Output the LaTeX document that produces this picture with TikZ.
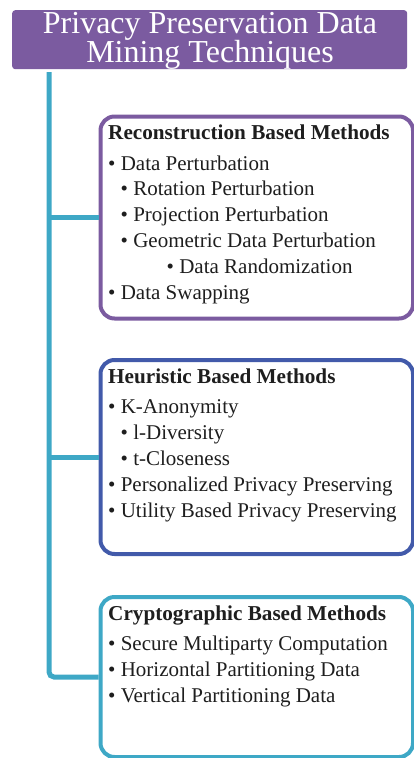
\documentclass[tikz,border=0pt]{standalone}
\usepackage{fontspec}
\setmainfont{Liberation Serif}
\usetikzlibrary{positioning,calc}
\definecolor{mPurple}{RGB}{123,91,160}
\definecolor{mBlue}{RGB}{66,90,170}
\definecolor{mTeal}{RGB}{62,168,198}
\definecolor{mText}{RGB}{30,30,30}

\begin{document}
\begin{tikzpicture}[x=1pt, y=1pt,
    font=\fontsize{21}{24}\selectfont,
    grp/.style={draw=#1, line width=4pt, rounded corners=14pt, anchor=north west,
                inner sep=0pt, minimum width=312.5pt},
    head/.style={anchor=base west, inner sep=0pt, mText,
                 font=\fontsize{21.2}{24}\selectfont\bfseries},
    item/.style={anchor=base west, inner sep=0pt, mText},
    ttl/.style={anchor=base, inner sep=0pt, white, font=\fontsize{32}{32}\selectfont},
    trunk/.style={mTeal, line width=5pt, rounded corners=5pt}
]
  \useasboundingbox (0,0) rectangle (414,-758);

  % title
  \node[fill=mPurple, rounded corners=3pt, anchor=north west, inner sep=0pt,
        minimum width=395pt, minimum height=59pt] (title) at (12,-10) {};
  \node[ttl] (title1) at (210,-33) {Privacy Preservation Data};
  \node[ttl] (title2) at (210,-62) {Mining Techniques};

  % the three groups
  \node[grp=mPurple, minimum height=202pt] (recon) at (98.5,-114.5) {};
  \node[grp=mBlue, minimum height=194pt] (heur) at (98.5,-358) {};
  \node[grp=mTeal, minimum height=160pt] (crypt) at (98.5,-595) {};

  % connectors
  \coordinate (trunktop) at (49,-72);
  \draw[trunk] (trunktop) |- (crypt.west);
  \draw[trunk] (trunktop |- recon.west) -- (recon.west);
  \draw[trunk] (trunktop |- heur.west) -- (heur.west);

  % Reconstruction
  \node[head] (reconhead) at (108,-139) {Reconstruction Based Methods};
  \foreach \t/\dx [count=\i] in {Data Perturbation/0, Rotation Perturbation/12.5,
      Projection Perturbation/12.5, Geometric Data Perturbation/12.5,
      Data Randomization/58.5, Data Swapping/0} {
    \node[item] (r\i) at (108+\dx, -170-25.8*\i+25.8) {• \t};
  }

  % Heuristic
  \node[head] (heurhead) at (108,-383) {Heuristic Based Methods};
  \foreach \t/\dx [count=\i] in {K-Anonymity/0, l-Diversity/12.5, t-Closeness/12.5,
      Personalized Privacy Preserving/0, Utility Based Privacy Preserving/0} {
    \node[item] (h\i) at (108+\dx, -413-26*\i+26) {• \t};
  }

  % Cryptographic
  \node[head] (crypthead) at (108,-620) {Cryptographic Based Methods};
  \foreach \t [count=\i] in {Secure Multiparty Computation, Horizontal Partitioning Data,
      Vertical Partitioning Data} {
    \node[item] (c\i) at (108, -650-26*\i+26) {• \t};
  }
\end{tikzpicture}
\end{document}
